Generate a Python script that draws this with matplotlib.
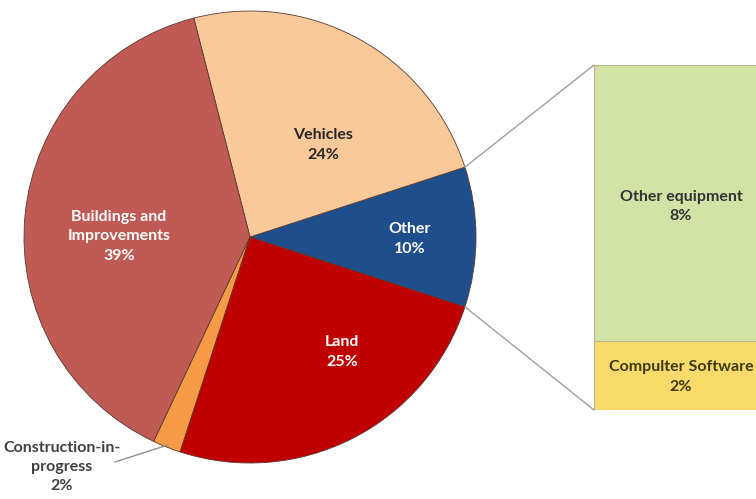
import matplotlib
matplotlib.use("Agg")
import matplotlib.pyplot as plt
from matplotlib.patches import ConnectionPatch
import numpy as np

plt.rcParams['font.family'] = ['Lato', 'DejaVu Sans']

# Main pie: asset categories (percent of total)
pie_labels = ["Other", "Vehicles", "Buildings and\nImprovements", "Construction-in-\nprogress", "Land"]
pie_values = [10, 24, 39, 2, 25]
pie_colors = ["#1F4E8C", "#FAC99A", "#C05A55", "#F79A45", "#C00000"]
pie_text_colors = ["white", "#262626", "white", "#404040", "white"]

# Breakdown of "Other"
bar_labels = ["Compulter Software", "Other equipment"]
bar_values = [2, 8]
bar_colors = ["#F9DA6A", "#D2E3A5"]
bar_text_colors = ["#3D3A10", "#333333"]

FS = 11.5
LS = 1.5
W, H = 756, 499
fig = plt.figure(figsize=(W / 100, H / 100), dpi=100)
ax = fig.add_axes([0, 0, 1, 1])

cx, cy, r = 250, 262, 226
start = -18
wedges, _ = ax.pie(pie_values, colors=pie_colors, startangle=start, counterclock=True,
                   center=(cx, cy), radius=r,
                   wedgeprops=dict(edgecolor="#5a3a30", linewidth=0.6))
ax.set_xlim(0, W)
ax.set_ylim(0, H)
ax.set_aspect("equal")
ax.axis("off")

# Labels inside slices
label_pos = {
    0: (410, 239),
    1: (323, 145),
    2: (119, 236),
    4: (342, 352),
}
for i, (x, y) in label_pos.items():
    ax.text(x, H - y, f"{pie_labels[i]}\n{pie_values[i]}%", ha="center", va="center",
            fontsize=FS, fontweight="bold", color=pie_text_colors[i], linespacing=LS)

# Construction-in-progress outside label with leader line
ax.text(62, H - 467, f"{pie_labels[3]}\n{pie_values[3]}%", ha="center", va="center",
        fontsize=FS, fontweight="bold", color=pie_text_colors[3], linespacing=LS)
w3 = wedges[3]
mid = np.deg2rad((w3.theta1 + w3.theta2) / 2)
ax.plot([115, cx + r * 0.99 * np.cos(mid)], [H - 462, cy + r * 0.99 * np.sin(mid)],
        color="#909090", lw=1)

# Stacked bar for the breakdown of "Other"
bx0, by0, bh = 594, 89, 345
bax = fig.add_axes([bx0 / W, by0 / H, (800 - bx0) / W, bh / H])
bottom = 0
label_y = [0.95, 5.9]
for lab, v, c, tc, ly in zip(bar_labels, bar_values, bar_colors, bar_text_colors, label_y):
    bax.bar(0, v, bottom=bottom, width=1, align="edge", color=c,
            edgecolor="#b8b890", linewidth=0.8)
    bax.text(87 / 206, ly, f"{lab}\n{v}%",
             ha="center", va="center", fontsize=FS, fontweight="bold", color=tc,
             linespacing=LS)
    bottom += v
bax.set_xlim(0, 1)
bax.set_ylim(0, sum(bar_values))
bax.axis("off")

# Connector lines from the "Other" slice to the bar
w0 = wedges[0]
for theta, yb in [(w0.theta2, sum(bar_values)), (w0.theta1, 0)]:
    t = np.deg2rad(theta)
    p = (cx + r * np.cos(t), cy + r * np.sin(t))
    con = ConnectionPatch(xyA=p, coordsA=ax.transData, xyB=(0, yb), coordsB=bax.transData,
                          color="#a0a0a0", lw=1)
    fig.add_artist(con)

fig.savefig("out.png", dpi=100)
